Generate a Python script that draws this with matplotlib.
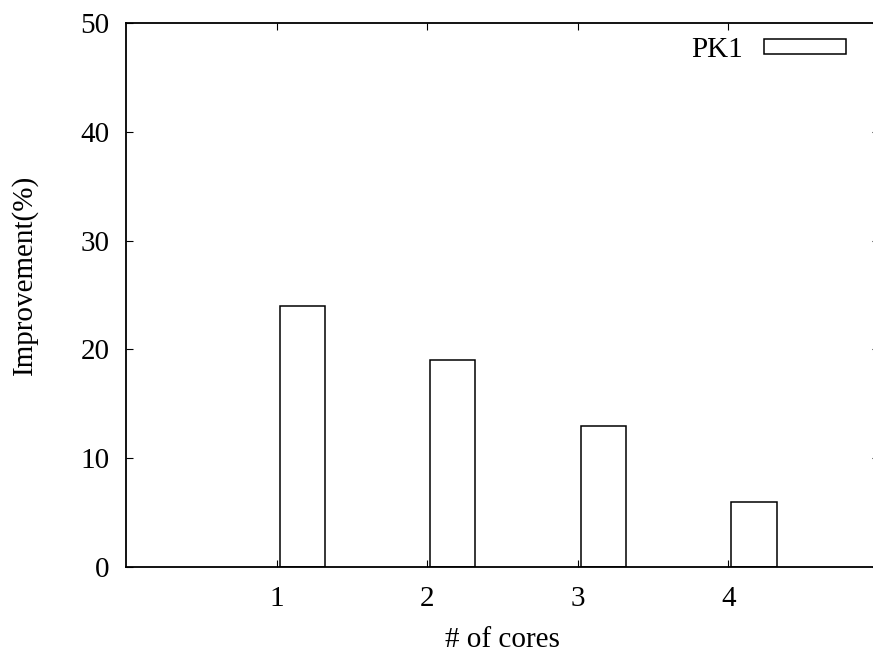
import numpy as np
from matplotlib import pyplot as plt

cores = [1, 2, 3, 4]
improvement = [24, 19, 13, 6]
series_name = "PK1"
yticks = [0, 10, 20, 30, 40, 50]

plt.rcParams['font.family'] = ['Liberation Serif', 'DejaVu Serif']
plt.rcParams['font.size'] = 21

fig = plt.figure(figsize=(8.73, 6.56), dpi=100)
W, H = 873, 656
# axes runs a bit past the right edge of the picture, like the original
ax = fig.add_axes([126 / W, 89 / H, 753 / W, 544 / H])

x = np.array(cores, dtype=float)
ax.bar(x + 0.02, improvement, width=0.3, align='edge', facecolor='white',
       edgecolor='black', linewidth=1.1, label=series_name)

ax.set_xlim(0, 5)
ax.set_ylim(0, 50)
ax.set_xticks(cores)
ax.set_yticks(yticks)
ax.tick_params(direction='in', length=5, width=0.8, top=True, right=True)
ax.tick_params(axis='x', pad=14)
ax.tick_params(axis='y', pad=12)
for s in ax.spines.values():
    s.set_linewidth(1.3)

ax.set_xlabel("# of cores")
ax.set_ylabel("Improvement(%)")
ax.xaxis.set_label_coords(0.5, -0.110)
ax.yaxis.set_label_coords(-0.117, 0.537)

ax.legend(loc='upper right', bbox_to_anchor=(846 / W, 1 - 37 / H),
          bbox_transform=fig.transFigure, frameon=False, markerfirst=False,
          handlelength=2.8, handleheight=0.45, handletextpad=0.75,
          borderpad=0, borderaxespad=0)

fig.savefig("out.png", dpi=100)
